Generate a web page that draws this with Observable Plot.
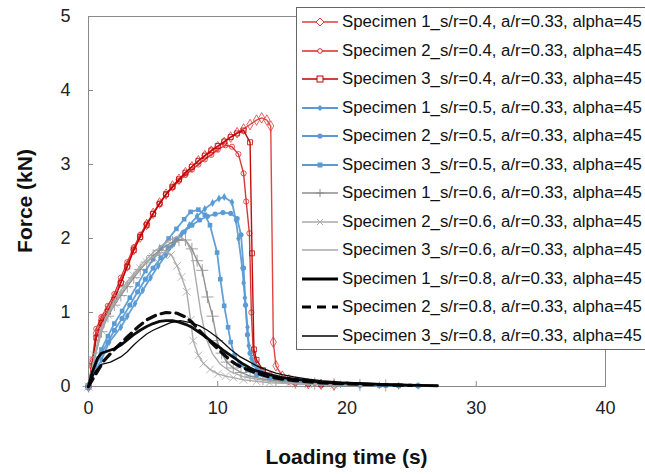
<!DOCTYPE html>
<html><head><meta charset="utf-8">
<script src="https://cdn.jsdelivr.net/npm/d3@7"></script>
<script src="https://cdn.jsdelivr.net/npm/@observablehq/plot@0.6"></script>
<style>
body{margin:0;background:#fff;}
#wrap{position:relative;width:645px;height:474px;overflow:hidden;font-family:"Liberation Sans",Arial,sans-serif;}
#chart{position:absolute;left:0;top:0;}
.xtitle{position:absolute;left:88px;width:517px;top:444px;text-align:center;font-weight:bold;font-size:21px;color:#111;line-height:26px}
.ytitle{position:absolute;left:25px;top:201px;transform:translate(-50%,-50%) rotate(-90deg);font-weight:bold;font-size:21px;white-space:nowrap;color:#111}
#legend{position:absolute;left:296px;top:7px;width:360px;height:343px;border:1px solid #666;background:#fff;box-sizing:border-box}
.row{position:absolute;left:5px;height:20px;display:flex;align-items:center;font-size:16.8px;white-space:nowrap;color:#111}
.row svg{margin-right:4px;flex:none}
</style>
</head><body>
<div id="wrap">
  <div id="chart"></div>
  <div class="ytitle">Force (kN)</div>
  <div class="xtitle">Loading time (s)</div>
  <div id="legend"></div>
</div>
<script>
const xTicks = [0, 10, 20, 30, 40];
const yTicks = [0, 1, 2, 3, 4, 5];
const seriesNames = [
  "Specimen 1_s/r=0.4, a/r=0.33, alpha=45",
  "Specimen 2_s/r=0.4, a/r=0.33, alpha=45",
  "Specimen 3_s/r=0.4, a/r=0.33, alpha=45",
  "Specimen 1_s/r=0.5, a/r=0.33, alpha=45",
  "Specimen 2_s/r=0.5, a/r=0.33, alpha=45",
  "Specimen 3_s/r=0.5, a/r=0.33, alpha=45",
  "Specimen 1_s/r=0.6, a/r=0.33, alpha=45",
  "Specimen 2_s/r=0.6, a/r=0.33, alpha=45",
  "Specimen 3_s/r=0.6, a/r=0.33, alpha=45",
  "Specimen 1_s/r=0.8, a/r=0.33, alpha=45",
  "Specimen 2_s/r=0.8, a/r=0.33, alpha=45",
  "Specimen 3_s/r=0.8, a/r=0.33, alpha=45"
];

// [time (s), force (kN)]
const red1 = [[0,0],[0.3,0.32],[0.6,0.72],[1.0,0.9],[1.5,1.04],[2.0,1.2],[2.5,1.41],[3.0,1.63],[3.5,1.85],[4.0,2.02],[4.5,2.19],[5.0,2.34],[5.5,2.48],[6.0,2.6],[6.5,2.71],[7.0,2.8],[7.5,2.89],[8.0,2.97],[8.5,3.05],[9.0,3.12],[9.5,3.18],[10.0,3.24],[10.5,3.3],[11.0,3.37],[11.5,3.43],[12.0,3.48],[12.5,3.54],[13.0,3.6],[13.4,3.63],[13.8,3.6],[14.1,3.52],[14.3,0.6],[14.5,0.28],[15.0,0.14],[15.5,0.09],[16.0,0.06],[17.0,0.04],[18.0,0.03],[19.0,0.02]];
const red2 = [[0,0],[0.3,0.36],[0.6,0.78],[1.0,0.94],[1.5,1.09],[2.0,1.25],[2.5,1.47],[3.0,1.68],[3.5,1.88],[4.0,2.05],[4.5,2.2],[5.0,2.34],[5.5,2.47],[6.0,2.59],[6.5,2.69],[7.0,2.78],[7.5,2.86],[8.0,2.93],[8.5,3.0],[9.0,3.07],[9.5,3.13],[10.0,3.2],[10.6,3.26],[11.1,3.24],[11.6,3.14],[12.0,2.88],[12.2,2.5],[12.45,2.07],[12.6,1.0],[12.75,0.45],[13.0,0.3],[13.5,0.2],[14.0,0.14],[15.0,0.08],[16.0,0.05],[17.0,0.035],[18.0,0.025]];
const red3 = [[0,0],[0.3,0.28],[0.6,0.66],[1.0,0.86],[1.5,1.01],[2.0,1.17],[2.5,1.4],[3.0,1.62],[3.5,1.84],[4.0,2.02],[4.5,2.18],[5.0,2.33],[5.5,2.47],[6.0,2.6],[6.5,2.7],[7.0,2.8],[7.5,2.89],[8.0,2.97],[8.5,3.05],[9.0,3.12],[9.5,3.19],[10.0,3.25],[10.5,3.31],[11.0,3.37],[11.5,3.42],[12.0,3.46],[12.5,3.3],[12.65,1.8],[12.8,0.5],[13.0,0.36],[13.5,0.22],[14.0,0.15],[15.0,0.09],[16.0,0.06],[17.0,0.04],[18.0,0.03]];
const blue1 = [[0,0],[0.5,0.2],[1.0,0.36],[1.6,0.6],[2.5,0.8],[3.0,0.95],[3.6,1.12],[4.2,1.3],[4.8,1.47],[5.4,1.63],[6.0,1.78],[6.6,1.93],[7.2,2.06],[7.8,2.18],[8.4,2.3],[9.0,2.4],[9.6,2.48],[10.1,2.54],[10.5,2.56],[11.1,2.49],[11.4,2.25],[11.6,2.0],[11.9,1.6],[12.0,1.4],[12.1,1.2],[12.3,0.8],[12.4,0.55],[12.6,0.38],[13.0,0.26],[13.5,0.19],[14.0,0.15],[15.0,0.1],[16.0,0.07],[17.0,0.05],[18.0,0.04],[19.5,0.03],[21.0,0.02],[22.5,0.015],[24.0,0.01],[25.5,0.01]];
const blue2 = [[0,0],[0.5,0.25],[1.0,0.45],[1.5,0.6],[2.0,0.76],[2.6,0.92],[3.2,1.1],[3.8,1.28],[4.4,1.45],[5.0,1.6],[5.6,1.74],[6.2,1.87],[6.8,1.99],[7.4,2.09],[8.0,2.18],[8.6,2.25],[9.2,2.3],[9.8,2.33],[10.4,2.35],[11.0,2.34],[11.5,2.27],[11.8,2.05],[12.0,1.6],[12.15,1.1],[12.3,0.7],[12.5,0.45],[12.8,0.3],[13.3,0.2],[14.0,0.14],[15.0,0.09],[16.0,0.06],[17.5,0.04],[19.0,0.03],[21.0,0.02],[23.0,0.015],[25.5,0.01]];
const blue3 = [[0,0],[0.5,0.3],[1.0,0.5],[1.5,0.68],[2.0,0.85],[2.6,1.02],[3.2,1.2],[3.8,1.38],[4.4,1.56],[5.0,1.72],[5.6,1.87],[6.2,2.0],[6.8,2.13],[7.4,2.26],[7.9,2.36],[8.5,2.39],[9.0,2.32],[9.4,2.18],[9.95,1.81],[10.2,1.45],[10.5,1.09],[10.8,0.8],[11.0,0.6],[11.3,0.42],[11.7,0.3],[12.3,0.22],[13.0,0.16],[14.0,0.11],[15.0,0.08],[16.5,0.05],[18.0,0.04],[19.5,0.03],[21.0,0.02],[22.5,0.015],[24.0,0.01],[25.5,0.01]];
const gray1 = [[0,0],[0.5,0.4],[1.0,0.74],[1.5,0.95],[2.0,1.1],[2.5,1.23],[3.0,1.35],[3.5,1.47],[4.0,1.58],[4.5,1.68],[5.0,1.77],[5.5,1.84],[6.0,1.9],[6.5,1.95],[7.0,1.98],[7.5,1.98],[8.0,1.86],[8.4,1.7],[8.8,1.57],[9.2,1.21],[9.6,0.95],[9.95,0.62],[10.3,0.45],[10.7,0.33],[11.2,0.25],[11.8,0.19],[12.5,0.14],[13.5,0.1],[14.5,0.08],[16.0,0.05],[17.5,0.04],[19.0,0.03],[21.0,0.02],[23.0,0.015]];
const gray2 = [[0,0],[0.5,0.42],[1.0,0.76],[1.5,0.97],[2.0,1.12],[2.5,1.26],[3.0,1.38],[3.5,1.5],[4.0,1.6],[4.5,1.68],[5.0,1.75],[5.5,1.8],[6.0,1.82],[6.4,1.78],[6.85,1.63],[7.2,1.48],[7.6,1.28],[7.9,0.9],[8.1,0.62],[8.5,0.42],[8.9,0.31],[9.4,0.23],[10.0,0.17],[10.6,0.14],[11.2,0.12],[12.0,0.09],[13.0,0.07],[14.0,0.05],[15.5,0.04],[17.0,0.03],[19.0,0.02]];
const gray3 = [[0,0],[0.5,0.45],[1.0,0.8],[2.0,1.17],[3.0,1.42],[4.0,1.63],[5.0,1.81],[6.0,1.95],[6.85,2.03],[7.3,2.0],[7.7,1.92],[8.0,1.79],[8.3,1.45],[8.7,0.99],[9.1,0.65],[9.6,0.44],[10.2,0.3],[11.0,0.2],[12.0,0.13],[13.0,0.1],[14.0,0.07],[16.0,0.04],[19.0,0.02],[22.0,0.01]];
const black1 = [[0,0],[0.3,0.2],[0.7,0.38],[1.0,0.45],[1.5,0.48],[2.0,0.51],[2.5,0.56],[3.0,0.63],[3.5,0.7],[4.0,0.76],[4.5,0.81],[5.0,0.85],[5.5,0.88],[6.0,0.89],[6.5,0.89],[7.0,0.87],[7.5,0.84],[8.0,0.8],[8.5,0.74],[9.0,0.68],[9.5,0.61],[10.0,0.55],[10.5,0.48],[11.0,0.42],[11.5,0.36],[12.0,0.3],[12.5,0.25],[13.0,0.21],[14.0,0.16],[15.0,0.12],[16.0,0.1],[17.0,0.08],[18.0,0.06],[19.0,0.05],[20.0,0.045],[21.0,0.04],[22.5,0.03],[24.0,0.02],[25.5,0.015],[27.0,0.01]];
const black2 = [[0,0],[0.5,0.15],[1.2,0.35],[2.0,0.5],[3.0,0.67],[3.8,0.8],[4.5,0.9],[5.3,0.97],[6.0,1.0],[6.85,0.99],[7.5,0.94],[8.0,0.87],[8.5,0.77],[9.0,0.68],[9.7,0.56],[10.3,0.46],[11.0,0.35],[11.5,0.29],[12.0,0.25],[13.0,0.18],[14.0,0.13],[15.0,0.1],[16.0,0.08],[18.0,0.05],[20.0,0.035],[22.0,0.025],[25.0,0.015]];
const black3 = [[0,0],[0.5,0.2],[1.0,0.3],[1.7,0.33],[2.5,0.4],[3.0,0.47],[3.5,0.56],[4.0,0.64],[4.5,0.71],[5.0,0.76],[5.5,0.8],[6.3,0.86],[7.1,0.89],[8.0,0.86],[8.6,0.82],[9.2,0.76],[10.0,0.66],[10.5,0.58],[11.0,0.5],[11.75,0.4],[12.5,0.33],[13.0,0.28],[14.0,0.21],[14.5,0.18],[15.0,0.16],[15.9,0.13],[17.0,0.1],[18.0,0.08],[19.5,0.06],[21.0,0.05],[22.5,0.04],[24.0,0.03],[25.5,0.02],[27.0,0.015]];

const seriesData = [red1, red2, red3, blue1, blue2, blue3, gray1, gray2, gray3, black1, black2, black3];

// styles (separate from data)
const styles = [
  {color:"#E23A3A", w:1.4, sym:"diamond", filled:false, r:3.2},
  {color:"#D62A2A", w:1.4, sym:"circle", filled:false, r:2.6},
  {color:"#C00000", w:1.4, sym:"square", filled:false, r:2.8},
  {color:"#5B9BD5", w:1.8, sym:"diamond", filled:true, r:2.4},
  {color:"#5B9BD5", w:1.8, sym:"circle", filled:true, r:2.6},
  {color:"#5B9BD5", w:1.8, sym:"square", filled:true, r:2.6},
  {color:"#8C8C8C", w:1.4, sym:"plus", filled:false, r:4},
  {color:"#A8A8A8", w:1.4, sym:"times", filled:false, r:3.6},
  {color:"#A8A8A8", w:1.4, sym:null},
  {color:"#000000", w:2.8, sym:null},
  {color:"#000000", w:3.2, sym:null, dash:"9,6"},
  {color:"#000000", w:1.3, sym:null}
];

const marks = [
  Plot.frame({stroke:"#8a8a8a"}),
  Plot.axisX(xTicks, {tickSize:-5, tickPadding:20, tickFormat:d => String(d), label:null, stroke:"#8a8a8a", fill:"#222"}),
  Plot.axisY(yTicks, {tickSize:-5, tickPadding:23, tickFormat:d => String(d), label:null, stroke:"#8a8a8a", fill:"#222"})
];
seriesData.forEach((data, i) => {
  const s = styles[i];
  marks.push(Plot.line(data, {x:d=>d[0], y:d=>d[1], stroke:s.color, strokeWidth:s.w, strokeDasharray:s.dash || null, strokeOpacity:0.95}));
  if (s.sym) {
    marks.push(Plot.dot(data, {x:d=>d[0], y:d=>d[1], symbol:s.sym, r:s.r,
      stroke: s.filled ? "none" : s.color, fill: s.filled ? s.color : "none",
      strokeWidth: 1, strokeOpacity: 0.8}));
  }
});

const chart = Plot.plot({
  width:645, height:474,
  marginLeft:88, marginRight:40, marginTop:16, marginBottom:88,
  x:{domain:[0,40]}, y:{domain:[0,5]},
  style:{fontFamily:"Liberation Sans, Arial, sans-serif", fontSize:"18px", color:"#222", background:"transparent", overflow:"visible"},
  marks
});
document.getElementById("chart").appendChild(chart);

// legend
function markerSvg(s) {
  const c = s.color;
  if (!s.sym) return "";
  switch (s.sym) {
    case "diamond": return s.filled
      ? `<path d="M18,4L21,7L18,10L15,7Z" fill="${c}"/>`
      : `<path d="M18,3L22,7L18,11L14,7Z" fill="#fff" stroke="${c}" stroke-width="1"/>`;
    case "circle": return `<circle cx="18" cy="7" r="${s.filled?2.6:2.3}" fill="${s.filled?c:'#fff'}" stroke="${s.filled?'none':c}"/>`;
    case "square": return s.filled
      ? `<rect x="15.5" y="4.5" width="5" height="5" fill="${c}"/>`
      : `<rect x="15" y="4" width="6" height="6" fill="#fff" stroke="${c}"/>`;
    case "plus": return `<path d="M18,3V11M14,7H22" stroke="${c}" stroke-width="1"/>`;
    case "times": return `<path d="M15,4L21,10M21,4L15,10" stroke="${c}" stroke-width="1"/>`;
  }
  return "";
}
const legend = document.getElementById("legend");
seriesNames.forEach((name, i) => {
  const s = styles[i];
  const row = document.createElement("div");
  row.className = "row";
  row.style.top = (14 + 28.5 * i - 10) + "px";
  row.innerHTML = `<svg width="36" height="14" viewBox="0 0 36 14"><line x1="0" y1="7" x2="36" y2="7" stroke="${s.color}" stroke-width="${s.w}" ${s.dash?`stroke-dasharray="${s.dash}"`:""}/>${markerSvg(s)}</svg><span>${name}</span>`;
  legend.appendChild(row);
});
</script>
</body></html>
